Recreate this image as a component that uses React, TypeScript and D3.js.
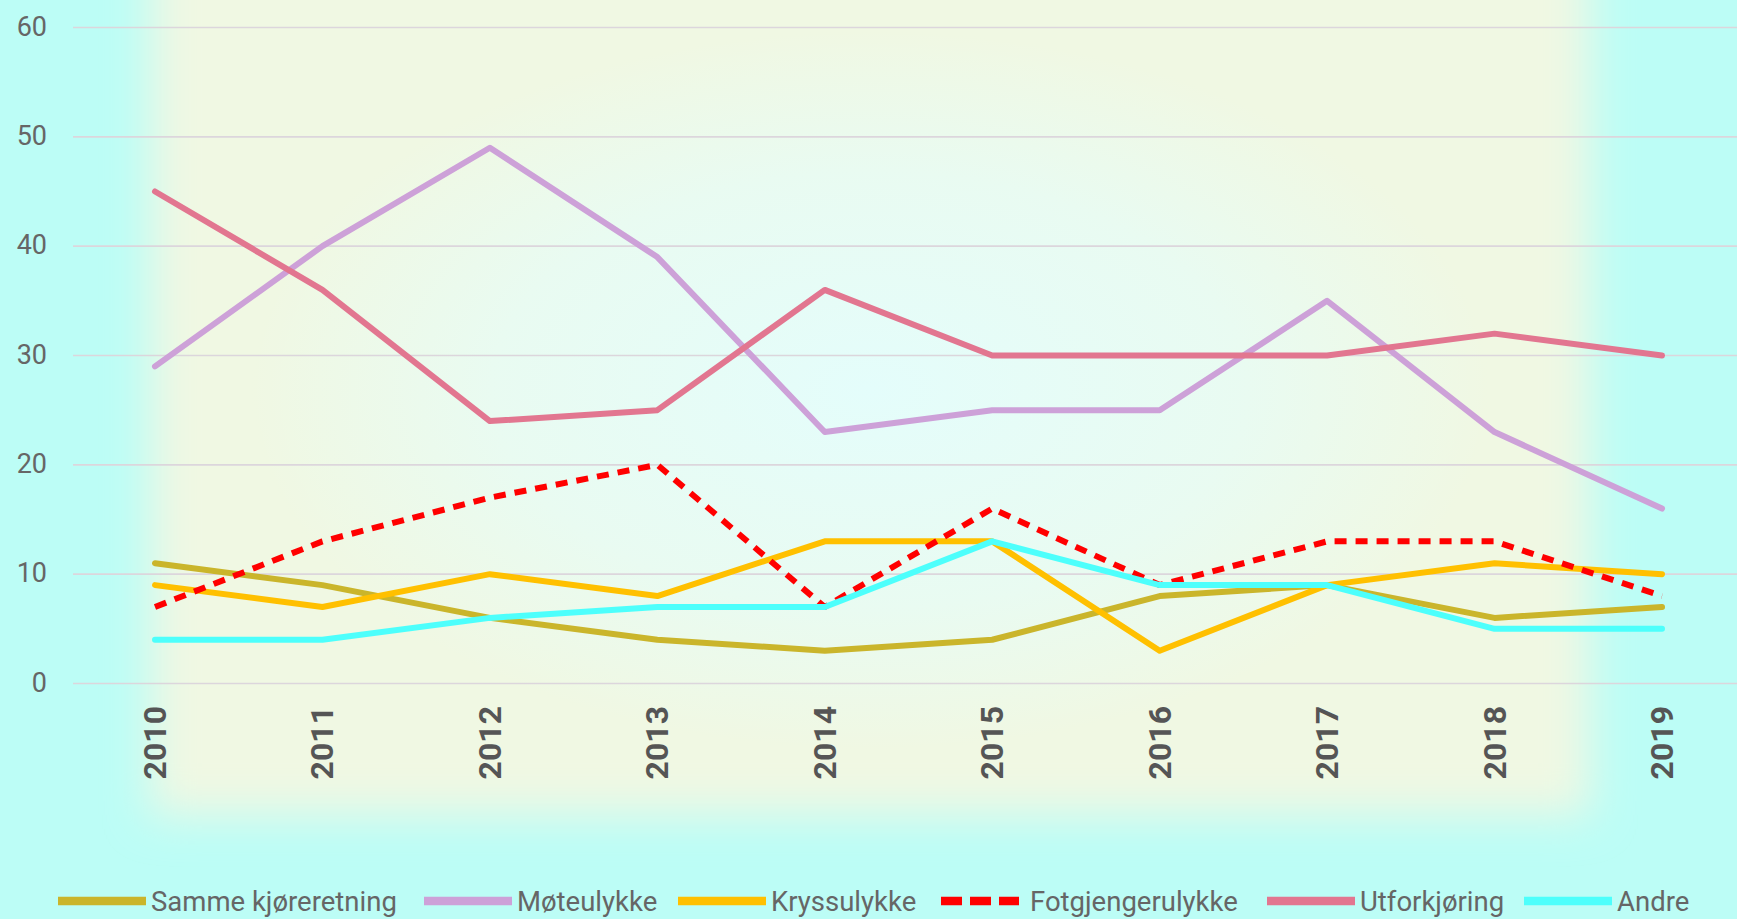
import * as d3 from "d3";

const years = ["2010", "2011", "2012", "2013", "2014", "2015", "2016", "2017", "2018", "2019"];
const yTicks = [0, 10, 20, 30, 40, 50, 60];

const samme = [11, 9, 6, 4, 3, 4, 8, 9, 6, 7];
const mote = [29, 40, 49, 39, 23, 25, 25, 35, 23, 16];
const kryss = [9, 7, 10, 8, 13, 13, 3, 9, 11, 10];
const fotgj = [7, 13, 17, 20, 7, 16, 9, 13, 13, 8];
const utfor = [45, 36, 24, 25, 36, 30, 30, 30, 32, 30];
const andre = [4, 4, 6, 7, 7, 13, 9, 9, 5, 5];

const seriesNames = ["Samme kjøreretning", "Møteulykke", "Kryssulykke", "Fotgjengerulykke", "Utforkjøring", "Andre"];
const seriesValues = [samme, mote, kryss, fotgj, utfor, andre];
const seriesColors = ["#cab52b", "#cda1d8", "#ffc000", "#ff0000", "#e27690", "#4dfffc"];
const seriesDashed = [false, false, false, true, false, false];

// legend swatch positions
const legendX = [58, 424, 678, 939, 1267, 1524];

const W = 1737;
const H = 919;

export default function App() {
  const x = d3.scalePoint<string>().domain(years).range([155, 1662]);
  const y = d3.scaleLinear().domain([0, 60]).range([683.5, 27.5]);

  const line = d3
    .line<number>()
    .x((_, i) => x(years[i]) as number)
    .y((d) => y(d));

  return (
    <svg
      width={W}
      height={H}
      style={{ position: "absolute", left: 0, top: 0 }}
      fontFamily="Roboto, sans-serif"
    >
      <defs>
        <filter id="soft" x="-20%" y="-20%" width="140%" height="140%">
          <feGaussianBlur stdDeviation="22" />
        </filter>
        <radialGradient id="glow" cx="0.5" cy="0.5" r="0.5">
          <stop offset="0%" stopColor="#e4fdfb" stopOpacity={1} />
          <stop offset="60%" stopColor="#e4fdfb" stopOpacity={0.6} />
          <stop offset="100%" stopColor="#e4fdfb" stopOpacity={0} />
        </radialGradient>
      </defs>

      {/* background */}
      <rect x={0} y={0} width={W} height={H} fill="#bcfdf6" />
      <rect x={150} y={-100} width={1440} height={915} fill="#f0f8e3" filter="url(#soft)" />
      <ellipse cx={870} cy={390} rx={620} ry={360} fill="url(#glow)" />

      {/* grid + y labels */}
      {yTicks.map((t) => (
        <g key={t}>
          <line x1={73} x2={W} y1={y(t)} y2={y(t)} stroke="#dcd6dc" strokeWidth={1.6} />
          <text x={47} y={y(t)} dy="0.3em" textAnchor="end" fontSize={27} fill="#666">
            {t}
          </text>
        </g>
      ))}

      {/* x labels */}
      {years.map((yr) => (
        <text
          key={yr}
          transform={`translate(${(x(yr) as number) + 11}, 706) rotate(-90)`}
          textAnchor="end"
          fontSize={32}
          fontWeight="bold"
          fill="#555"
        >
          {yr}
        </text>
      ))}

      {/* series */}
      {seriesValues.map((vals, i) => (
        <path
          key={seriesNames[i]}
          d={line(vals) ?? ""}
          fill="none"
          stroke={seriesColors[i]}
          strokeWidth={6}
          strokeLinejoin="round"
          strokeLinecap={seriesDashed[i] ? "butt" : "round"}
          strokeDasharray={seriesDashed[i] ? "12 9" : undefined}
        />
      ))}

      {/* legend */}
      {seriesNames.map((name, i) => (
        <g key={name} transform={`translate(${legendX[i]}, 901)`}>
          <line
            x1={seriesDashed[i] ? 2 : 0}
            x2={seriesDashed[i] ? 80 : 88}
            y1={0}
            y2={0}
            stroke={seriesColors[i]}
            strokeWidth={8.5}
            strokeDasharray={seriesDashed[i] ? "21 8" : undefined}
          />
          <text x={seriesDashed[i] ? 91 : 93} y={0} dy="0.36em" fontSize={27.5} fill="#666">
            {name}
          </text>
        </g>
      ))}
    </svg>
  );
}
